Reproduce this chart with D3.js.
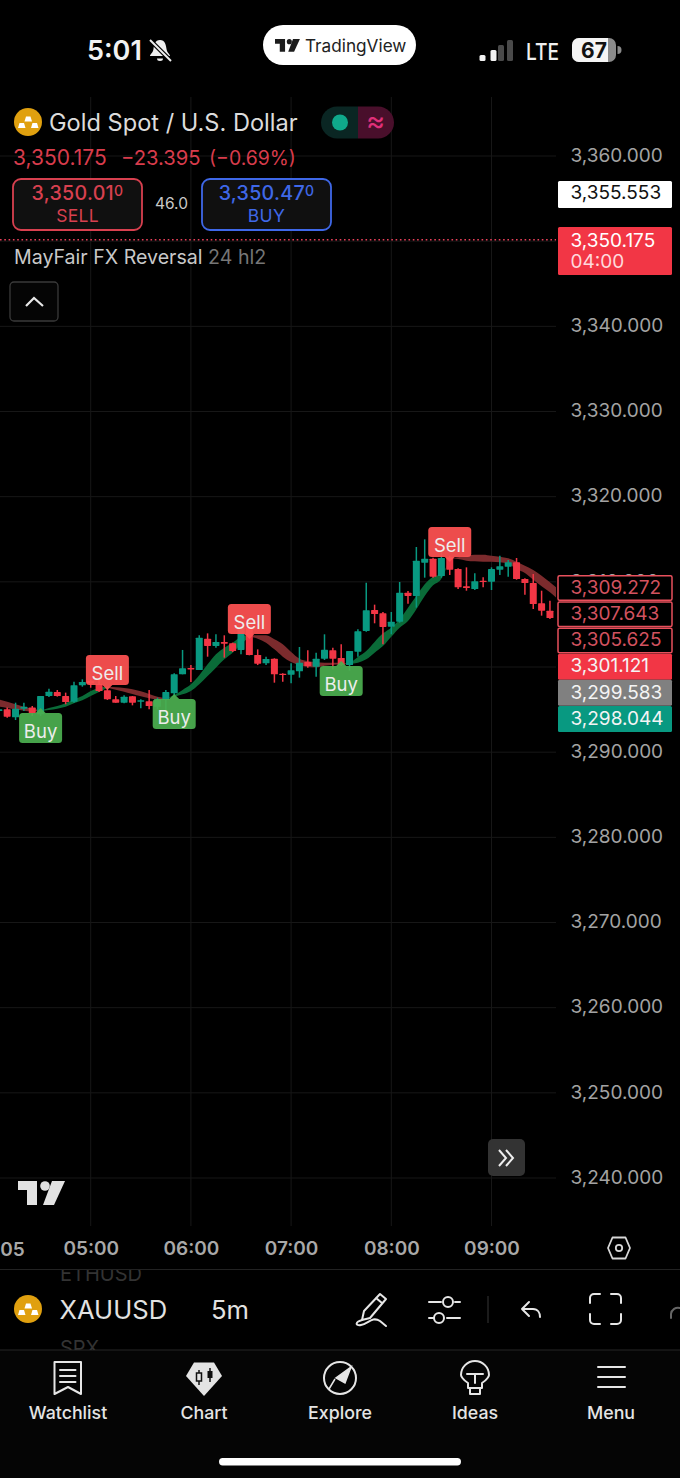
<!DOCTYPE html>
<html>
<head>
<meta charset="utf-8">
<style>
  html, body { margin: 0; padding: 0; background: #000; }
  text { font-family: Inter, "Noto Sans", sans-serif; }
</style>
<script src="https://cdn.jsdelivr.net/npm/d3@7"></script>
</head>
<body>
<div id="chart"></div>
<script>
// 5m candles, first bar is 04:05
var firstBar = -11;
var opens = [3294.83,3295.03,3294.09,3295.11,3295.23,3294.44,3296.59,3297.06,3296.59,3295.93,3297.85,
  3298.36,3297.96,3297.26,3296.20,3295.81,3296.56,3295.97,3295.97,3295.34,3296.13,3296.91,3299.14,
  3299.88,3299.65,3303.33,3302.47,3302.94,3302.78,3302.00,3304.62,3301.41,3300.43,3300.98,3299.22,
  3299.10,3299.49,3300.59,3300.04,3300.98,3301.96,3301.06,3300.23,3301.80,3304.23,3306.69,3306.30,
  3304.74,3305.32,3308.73,3308.34,3312.25,3312.72,3310.68,3312.88,3311.51,3309.47,3309.16,3310.14,
  3310.02,3311.43,3311.78,3312.29,3310.33,3309.86,3307.48,3306.61];
var highs = [3295.20,3295.23,3295.81,3295.81,3295.42,3296.59,3297.46,3297.30,3296.99,3298.28,3298.55,
  3298.55,3298.55,3297.57,3296.59,3296.67,3296.59,3296.20,3297.30,3296.40,3297.30,3299.26,3302.00,
  3300.23,3303.72,3303.95,3303.84,3303.72,3302.86,3304.81,3304.74,3302.07,3301.21,3301.02,3299.26,
  3300.43,3302.35,3301.96,3301.68,3303.84,3302.27,3302.66,3301.88,3304.42,3309.90,3307.32,3306.46,
  3306.46,3309.98,3308.92,3314.09,3314.99,3312.84,3313.62,3313.07,3311.59,3311.70,3311.00,3310.53,
  3311.70,3313.07,3312.56,3312.80,3310.41,3310.92,3308.96,3307.79];
var lows = [3294.60,3294.05,3293.78,3294.83,3294.25,3294.25,3296.48,3296.52,3295.62,3295.81,3297.69,
  3297.57,3297.06,3296.13,3295.81,3295.73,3295.50,3295.15,3295.03,3295.03,3294.95,3296.59,3299.14,
  3298.24,3299.65,3301.21,3302.27,3301.10,3301.76,3301.49,3301.37,3300.23,3300.23,3298.16,3298.28,
  3298.08,3298.75,3299.92,3298.86,3300.82,3299.73,3300.12,3299.57,3301.21,3304.15,3305.13,3302.66,
  3303.84,3305.21,3307.44,3306.97,3310.49,3310.49,3310.49,3310.80,3309.16,3308.96,3309.04,3309.35,
  3309.04,3310.80,3310.61,3310.25,3308.49,3306.81,3306.03,3305.64];
var closes = [3295.03,3294.17,3295.11,3295.34,3294.56,3296.59,3297.10,3296.59,3295.89,3297.85,3298.24,
  3298.08,3297.18,3296.20,3295.81,3296.52,3295.81,3296.09,3295.42,3296.20,3297.06,3299.14,3299.84,
  3299.73,3303.44,3302.47,3302.94,3302.74,3301.88,3304.62,3301.41,3300.39,3300.94,3299.14,3299.06,
  3299.61,3300.51,3300.12,3300.98,3302.04,3300.98,3300.23,3301.88,3304.19,3306.65,3306.22,3304.70,
  3305.32,3308.73,3308.34,3312.49,3312.72,3310.61,3312.80,3311.43,3309.35,3309.28,3310.06,3309.98,
  3311.51,3311.82,3312.29,3310.33,3309.86,3307.40,3306.61,3305.75];

// MayFair band segments: [bar, upper, lower]
var bearA = [[-11,3296.20,3295.34],[-10,3295.93,3295.19],[-9,3295.62,3295.03],[-8,3295.34,3294.87],[-7,3295.11,3294.79],[-6,3294.95,3294.87]];
var bullA = [[-6,3294.87,3294.87],[-5,3295.19,3294.95],[-4,3295.42,3295.11],[-3,3295.73,3295.34],[-2,3296.20,3295.73],[-1,3296.59,3296.09],[0,3297.18,3296.59],[1,3297.57,3297.06],[2,3297.69,3297.57]];
var bearB = [[2,3297.69,3297.57],[3,3297.61,3297.34],[4,3297.53,3297.10],[5,3297.38,3296.83],[6,3297.14,3296.56],[7,3296.83,3296.32],[8,3296.52,3296.20],[9,3296.36,3296.20]];
var bullB = [[9,3296.28,3296.28],[10,3296.70,3296.50],[11,3297.30,3296.79],[12,3297.96,3297.18],[13,3299.02,3297.96],[14,3300.31,3298.94],[15,3301.49,3299.92],[16,3302.27,3300.90],[17,3302.86,3301.68],[18,3303.56,3302.66],[19,3303.72,3303.56]];
var bearC = [[19,3303.72,3303.56],[20,3303.72,3303.33],[21,3303.72,3302.86],[22,3303.25,3302.07],[23,3302.66,3301.21],[24,3301.76,3300.59],[25,3300.98,3300.23],[26,3300.70,3300.00],[27,3300.55,3299.96],[28,3300.51,3300.16],[29,3300.51,3300.27],[30,3300.47,3300.31],[31,3300.39,3300.35]];
var bullC = [[31,3300.39,3300.35],[32,3301.17,3300.51],[33,3301.88,3300.90],[34,3302.94,3301.68],[35,3303.95,3302.47],[36,3304.62,3303.56],[37,3305.60,3304.62],[38,3306.97,3305.40],[39,3308.34,3306.77],[40,3309.71,3308.34],[41,3310.61,3309.59],[42,3310.88,3310.37],[43,3312.76,3312.76]];
var bearD = [[43,3312.76,3312.76],[44,3312.88,3312.68],[45,3313.07,3312.49],[46,3313.19,3312.41],[47,3313.19,3312.37],[48,3313.07,3312.37],[49,3312.95,3312.29],[50,3312.76,3312.09],[51,3312.37,3311.51],[52,3311.90,3311.04],[53,3311.39,3310.25],[54,3310.72,3309.47],[55,3309.94,3308.77],[56,3309.16,3307.91]];

// signal labels: bar, text, price at the tip of the pointer
var signalBars = [-6, 2, 10, 19, 30, 43];
var signalKinds = ['Buy', 'Sell', 'Buy', 'Sell', 'Buy', 'Sell'];
var signalPrices = [3295.19, 3297.30, 3296.83, 3303.29, 3300.71, 3312.33];

var gridPrices = [3360, 3350, 3340, 3330, 3320, 3310, 3300, 3290, 3280, 3270, 3260, 3250, 3240];
// 3,350 and 3,300 sit fully under the price labels
var yTicks = [3360, 3340, 3330, 3320, 3310, 3290, 3280, 3270, 3260, 3250, 3240];
var xTicks = ['05:00', '06:00', '07:00', '08:00', '09:00'];

var highPrice = 3355.553;
var lastPrice = 3350.175;
var outlinedPrices = [3309.272, 3307.643, 3305.625];
var filledPrices = [3301.121, 3299.583, 3298.044];
var filledColors = ['#f23645', '#808080', '#089981'];

var W = 680, H = 1478;
var UP = '#089981', DOWN = '#f23645';
var plotW = 556, plotTop = 97, plotBottom = 1226;

function clock(s) {
  var p = s.split(':');
  return new Date(2025, 4, 5, +p[0], +p[1]);
}
function barTime(bar) {
  return d3.timeMinute.offset(clock('05:00'), bar * 5);
}

var x = d3.scaleTime().domain([clock('05:00'), clock('09:00')]).range([90.7, 491.5]);
var y = d3.scaleLinear().domain([3360, 3240]).range([156, 1178]);
var fmt = d3.format(',.3f');

var svg = d3.select('#chart').append('svg')
  .attr('width', W).attr('height', H)
  .attr('viewBox', '0 0 ' + W + ' ' + H)
  .style('display', 'block')
  .style('background', '#000');

var defs = svg.append('defs');
defs.append('clipPath').attr('id', 'plotclip').append('rect')
  .attr('x', 0).attr('y', plotTop).attr('width', plotW).attr('height', plotBottom - plotTop);
defs.append('clipPath').attr('id', 'rowclip').append('rect')
  .attr('x', 0).attr('y', 1270).attr('width', W).attr('height', 80);
defs.append('clipPath').attr('id', 'batclip').append('rect')
  .attr('x', 572).attr('y', 38).attr('width', 36).attr('height', 24);

// grid
var grid = svg.append('g');
grid.selectAll('line.h').data(gridPrices).enter().append('line')
  .attr('class', 'h')
  .attr('x1', 0).attr('x2', plotW)
  .attr('y1', function (d) { return y(d); }).attr('y2', function (d) { return y(d); })
  .attr('stroke', '#171717').attr('stroke-width', 1);
grid.selectAll('line.v').data(xTicks).enter().append('line')
  .attr('class', 'v')
  .attr('y1', plotTop).attr('y2', plotBottom)
  .attr('x1', function (d) { return x(clock(d)); }).attr('x2', function (d) { return x(clock(d)); })
  .attr('stroke', '#171717').attr('stroke-width', 1);

var plot = svg.append('g').attr('clip-path', 'url(#plotclip)');

// band
var bandArea = d3.area()
  .x(function (d) { return x(barTime(d[0])); })
  .y0(function (d) { return y(d[2]); })
  .y1(function (d) { return y(d[1]); })
  .curve(d3.curveMonotoneX);
[bearA, bearB, bearC, bearD].forEach(function (seg) {
  plot.append('path').attr('d', bandArea(seg)).attr('fill', '#7c2b2d');
});
[bullA, bullB, bullC].forEach(function (seg) {
  plot.append('path').attr('d', bandArea(seg)).attr('fill', '#0a6b38');
});

// candles
var candles = opens.map(function (o, i) {
  return { t: barTime(firstBar + i), o: o, h: highs[i], l: lows[i], c: closes[i] };
});
var candle = plot.selectAll('g.candle').data(candles).enter().append('g').attr('class', 'candle');
candle.append('line')
  .attr('x1', function (d) { return x(d.t); }).attr('x2', function (d) { return x(d.t); })
  .attr('y1', function (d) { return y(d.h); }).attr('y2', function (d) { return y(d.l); })
  .attr('stroke', function (d) { return d.c >= d.o ? UP : DOWN; })
  .attr('stroke-width', 1.5);
candle.append('rect')
  .attr('x', function (d) { return x(d.t) - 3.5; })
  .attr('width', 7)
  .attr('y', function (d) { return y(Math.max(d.o, d.c)); })
  .attr('height', function (d) { return Math.max(1.4, Math.abs(y(d.o) - y(d.c))); })
  .attr('rx', 0.6)
  .attr('fill', function (d) { return d.c >= d.o ? UP : DOWN; });

// Buy / Sell labels
signalBars.forEach(function (bar, i) {
  var isBuy = signalKinds[i] === 'Buy';
  var cx = x(barTime(bar)), tip = y(signalPrices[i]);
  var dir = isBuy ? 1 : -1;
  var top = isBuy ? tip + 5 : tip - 35;
  var color = isBuy ? '#4caf50' : '#ff5252';
  var g = plot.append('g').attr('opacity', 0.93);
  g.append('path')
    .attr('d', 'M' + (cx - 6) + ',' + (tip + dir * 6) + 'L' + cx + ',' + tip + 'L' + (cx + 6) + ',' + (tip + dir * 6) + 'Z')
    .attr('fill', color);
  g.append('rect')
    .attr('x', cx - 21.5).attr('y', top).attr('width', 43).attr('height', 30).attr('rx', 3.5)
    .attr('fill', color);
  g.append('text')
    .attr('x', cx).attr('y', top + 25)
    .attr('text-anchor', 'middle').attr('font-size', 18.5).attr('fill', '#fff')
    .text(signalKinds[i]);
});

// last price dotted line
svg.append('line')
  .attr('x1', 0).attr('x2', plotW).attr('y1', y(lastPrice)).attr('y2', y(lastPrice))
  .attr('stroke', '#e8405a').attr('stroke-width', 1.5).attr('stroke-dasharray', '1.6 2.7');

// price axis
var yAxis = d3.axisRight(y).tickValues(yTicks).tickSize(0).tickPadding(0).tickFormat(fmt);
var yAxisG = svg.append('g').attr('transform', 'translate(570.5,0)').call(yAxis);
yAxisG.select('.domain').remove();
yAxisG.selectAll('text')
  .attr('font-size', 19).attr('fill', '#a3a3a3').attr('dy', '0.28em');

// price labels
var labelX = 558, labelW = 114, labelText = 570.5;
function priceLabel(cy, h, fill, stroke, textColor, value) {
  svg.append('rect')
    .attr('x', labelX).attr('y', cy - h / 2).attr('width', labelW).attr('height', h).attr('rx', 1.5)
    .attr('fill', fill).attr('stroke', stroke).attr('stroke-width', stroke === 'none' ? 0 : 1.5);
  svg.append('text')
    .attr('x', labelText).attr('y', cy).attr('dy', '0.3em')
    .attr('font-size', 19).attr('fill', textColor)
    .text(fmt(value));
}
svg.append('rect').attr('x', 558).attr('y', 181).attr('width', 114).attr('height', 27).attr('rx', 1.5).attr('fill', '#fff');
svg.append('text').attr('x', labelText).attr('y', 193).attr('dy', '0.3em')
  .attr('font-size', 19).attr('fill', '#111').text(fmt(highPrice));
svg.append('rect').attr('x', 558).attr('y', 227).attr('width', 114).attr('height', 48).attr('rx', 1.5).attr('fill', DOWN);
svg.append('text').attr('x', labelText).attr('y', 246.5)
  .attr('font-size', 19).attr('fill', '#fff').text(fmt(lastPrice));
svg.append('text').attr('x', labelText).attr('y', 268)
  .attr('font-size', 19).attr('fill', '#ffd9dc').text('04:00');

var step = 26.2, stackTop = y(outlinedPrices[0]);
outlinedPrices.forEach(function (p, i) {
  priceLabel(stackTop + i * step, 24.5, '#000', '#e8505c', '#d2525f', p);
});
filledPrices.forEach(function (p, i) {
  priceLabel(stackTop + (i + 3) * step, 26, filledColors[i], 'none', '#f4f4f4', p);
});

// time axis
var xAxis = d3.axisBottom(x)
  .tickValues(xTicks.map(clock)).tickSize(0).tickPadding(0)
  .tickFormat(d3.timeFormat('%H:%M'));
var xAxisG = svg.append('g').attr('transform', 'translate(0,1240)').call(xAxis);
xAxisG.select('.domain').remove();
xAxisG.selectAll('text').attr('font-size', 19).attr('font-weight', 600).attr('fill', '#a8a8a8').attr('dy', '0.8em');
svg.append('text').attr('x', 12.5).attr('y', 1255.5).attr('text-anchor', 'middle')
  .attr('font-size', 19).attr('font-weight', 600).attr('fill', '#a8a8a8').text('05');

// logo
function tvLogo(sel, ox, oy, k, color) {
  var g = sel.append('g').attr('transform', 'translate(' + ox + ',' + oy + ') scale(' + k + ')').attr('fill', color);
  g.append('path').attr('d', 'M0,0H19V24H9V9H0Z');
  g.append('circle').attr('cx', 27).attr('cy', 5).attr('r', 4.8);
  g.append('path').attr('d', 'M34,0H47L36,24H25Z');
}
tvLogo(svg, 18, 1181, 1, '#e2e2e2');

// status bar
svg.append('text').attr('x', 87).attr('y', 60).attr('font-size', 27).attr('font-weight', 600).attr('fill', '#f2f2f2').text('5:01');
var bell = svg.append('g').attr('transform', 'translate(149,39)');
bell.append('path').attr('d', 'M11,1C6,1 5,6 4.5,10C4,14 1,15 1,17H21C21,15 18,14 17.5,10C17,6 16,1 11,1Z').attr('fill', '#eee');
bell.append('path').attr('d', 'M8,19.5A3,2.5 0 0 0 14,19.5Z').attr('fill', '#eee');
bell.append('line').attr('x1', 1).attr('y1', 1).attr('x2', 22).attr('y2', 22).attr('stroke', '#000').attr('stroke-width', 4.5);
bell.append('line').attr('x1', 1).attr('y1', 1).attr('x2', 22).attr('y2', 22).attr('stroke', '#eee').attr('stroke-width', 2);

svg.append('rect').attr('x', 263).attr('y', 25).attr('width', 153).attr('height', 40).attr('rx', 20).attr('fill', '#fff');
tvLogo(svg, 275, 39, 0.53, '#1c1c1c');
svg.append('text').attr('x', 305).attr('y', 51.5).attr('font-size', 17.2).attr('fill', '#222').text('TradingView');

[[479.5, 55, 6, 1], [490.5, 50, 6, 1], [498, 45, 6, 0], [507, 40, 6, 0]].forEach(function (b) {
  svg.append('rect').attr('x', b[0]).attr('y', b[1]).attr('width', b[2]).attr('height', 61 - b[1]).attr('rx', 1.5)
    .attr('fill', b[3] ? '#f2f2f2' : '#4a4a4a');
});
svg.append('text').attr('x', 526).attr('y', 60).attr('font-size', 23).attr('font-weight', 500).attr('fill', '#f0f0f0')
  .attr('textLength', 33).attr('lengthAdjust', 'spacingAndGlyphs').text('LTE');
svg.append('rect').attr('x', 572).attr('y', 38).attr('width', 44).attr('height', 24).attr('rx', 7).attr('fill', '#8b8b8b');
svg.append('rect').attr('x', 572).attr('y', 38).attr('width', 44).attr('height', 24).attr('rx', 7).attr('fill', '#f4f4f4').attr('clip-path', 'url(#batclip)');
svg.append('path').attr('d', 'M617.5,46A4,4 0 0 1 617.5,54Z').attr('fill', '#8b8b8b');
svg.append('text').attr('x', 594).attr('y', 58).attr('text-anchor', 'middle').attr('font-size', 21).attr('font-weight', 700).attr('fill', '#111').text('67');

// gold icons
function goldIcon(cx, cy) {
  var g = svg.append('g');
  g.append('circle').attr('cx', cx).attr('cy', cy).attr('r', 14).attr('fill', '#e0a00f');
  [[-3.5, -5.5], [-10, 1], [3, 1]].forEach(function (b) {
    g.append('path')
      .attr('d', 'M' + (cx + b[0] + 1.5) + ',' + (cy + b[1]) + 'h4.5l1.5,5h-7.5z')
      .attr('fill', '#fff');
  });
}
goldIcon(28, 122);
goldIcon(28, 1309);

// header
svg.append('text').attr('x', 49).attr('y', 131).attr('font-size', 23.6).attr('fill', '#dcdcdc').text('Gold Spot / U.S. Dollar');
svg.append('path').attr('d', 'M337,106.5H358V138.5H337A16,16 0 0 1 337,106.5Z').attr('fill', '#0a2623');
svg.append('path').attr('d', 'M358,106.5H378A16,16 0 0 1 378,138.5H358Z').attr('fill', '#490f2b');
svg.append('circle').attr('cx', 340).attr('cy', 122.5).attr('r', 8).attr('fill', '#0fa98b');
svg.append('text').attr('x', 375.5).attr('y', 131).attr('text-anchor', 'middle').attr('font-size', 29).attr('fill', '#e0307a').text('≈');

[[13, '3,350.175', 21], [121, '−23.395', 20.2], [209, '(−0.69%)', 19.4]].forEach(function (s) {
  svg.append('text').attr('x', s[0]).attr('y', 164.5).attr('font-size', s[2])
    .attr('fill', '#d83c4c').text(s[1]);
});

function tradeBox(bx, color, price, label) {
  svg.append('rect').attr('x', bx).attr('y', 179).attr('width', 129).attr('height', 51).attr('rx', 8)
    .attr('fill', '#101010').attr('stroke', color).attr('stroke-width', 1.8);
  var t = svg.append('text').attr('x', bx + 64.5).attr('y', 200).attr('text-anchor', 'middle')
    .attr('font-size', 19.6).attr('font-weight', 500).attr('fill', color).attr('letter-spacing', 0.3).text(price);
  t.append('tspan').attr('font-size', 14).attr('dy', -4).text('0');
  svg.append('text').attr('x', bx + 64.5).attr('y', 222).attr('text-anchor', 'middle')
    .attr('font-size', 17.5).attr('fill', color).attr('letter-spacing', 0.3).text(label);
}
tradeBox(13, '#d8404f', '3,350.01', 'SELL');
tradeBox(202, '#3f68e8', '3,350.47', 'BUY');
svg.append('text').attr('x', 171.5).attr('y', 209).attr('text-anchor', 'middle').attr('font-size', 15.5).attr('fill', '#c8c8c8').text('46.0');

var study = svg.append('text').attr('x', 14).attr('y', 264).attr('font-size', 19.6).attr('fill', '#c9c9c9').text('MayFair FX Reversal ');
study.append('tspan').attr('fill', '#767676').text('24 hl2');

svg.append('rect').attr('x', 10).attr('y', 282).attr('width', 48).attr('height', 39).attr('rx', 4)
  .attr('fill', '#050505').attr('stroke', '#3a3a3a').attr('stroke-width', 1.3);
svg.append('path').attr('d', 'M26,306L34,298L43,306').attr('fill', 'none').attr('stroke', '#e8e8e8').attr('stroke-width', 2.2);

// scroll button
svg.append('rect').attr('x', 488).attr('y', 1139).attr('width', 37).attr('height', 37).attr('rx', 5).attr('fill', '#333');
svg.append('path').attr('d', 'M499,1150L506,1158L499,1166M506,1150L513,1158L506,1166')
  .attr('fill', 'none').attr('stroke', '#eee').attr('stroke-width', 2);

// settings hexagon
svg.append('path').attr('d', 'M612.5,1237.5H625.5L630,1248L625.5,1258.5H612.5L608,1248Z')
  .attr('fill', 'none').attr('stroke', '#d8d8d8').attr('stroke-width', 1.8).attr('stroke-linejoin', 'round');
svg.append('circle').attr('cx', 619).attr('cy', 1248).attr('r', 3.2).attr('fill', 'none').attr('stroke', '#d8d8d8').attr('stroke-width', 1.8);

// toolbar
svg.append('rect').attr('x', 0).attr('y', 1350).attr('width', W).attr('height', H - 1350).attr('fill', '#050505');
svg.append('line').attr('x1', 0).attr('x2', W).attr('y1', 1269.5).attr('y2', 1269.5).attr('stroke', '#222').attr('stroke-width', 1.2);
svg.append('line').attr('x1', 0).attr('x2', W).attr('y1', 1350).attr('y2', 1350).attr('stroke', '#262626').attr('stroke-width', 1.2);

var row = svg.append('g').attr('clip-path', 'url(#rowclip)');
row.append('text').attr('x', 60).attr('y', 1281).attr('font-size', 20).attr('fill', '#333').text('ETHUSD');
row.append('text').attr('x', 60).attr('y', 1355).attr('font-size', 20).attr('fill', '#333').text('SPX');
svg.append('text').attr('x', 59.5).attr('y', 1319).attr('font-size', 25.6).attr('fill', '#e2e2e2').text('XAUUSD');
svg.append('text').attr('x', 211).attr('y', 1319).attr('font-size', 25.6).attr('fill', '#e2e2e2').text('5m');

var toolStroke = { fill: 'none', stroke: '#e6e6e6', 'stroke-width': 2, 'stroke-linecap': 'round', 'stroke-linejoin': 'round' };
function strokePath(d, sw) {
  var p = svg.append('path').attr('d', d);
  Object.keys(toolStroke).forEach(function (k) { p.attr(k, toolStroke[k]); });
  if (sw) p.attr('stroke-width', sw);
  return p;
}
strokePath('M380,1294L386,1299L370,1318L362,1320L364,1311ZM376,1298L382,1303');
strokePath('M362,1320C355,1322 355,1326 361,1325C368,1324 372,1316 380,1321L386,1326');
strokePath('M429,1302H441M455,1302H460M429,1318H434M447,1318H460');
svg.append('circle').attr('cx', 448).attr('cy', 1302).attr('r', 5).attr('fill', 'none').attr('stroke', '#e6e6e6').attr('stroke-width', 2);
svg.append('circle').attr('cx', 439).attr('cy', 1318).attr('r', 5).attr('fill', 'none').attr('stroke', '#e6e6e6').attr('stroke-width', 2);
svg.append('line').attr('x1', 488).attr('x2', 488).attr('y1', 1296).attr('y2', 1323).attr('stroke', '#2a2a2a').attr('stroke-width', 1.3);
strokePath('M529,1302L522,1309L529,1316M522,1309H533C538,1309 540,1313 540,1317');
strokePath('M590,1303V1298A4,4 0 0 1 594,1294H600M611,1294H617A4,4 0 0 1 621,1298V1303M621,1314V1320A4,4 0 0 1 617,1324H611M600,1324H594A4,4 0 0 1 590,1320V1314');
strokePath('M671,1318V1314A7,7 0 0 1 680,1308').attr('stroke', '#666');

// tab bar
var tabNames = ['Watchlist', 'Chart', 'Explore', 'Ideas', 'Menu'];
var tabCenters = [68, 204, 340, 475, 611];
tabNames.forEach(function (name, i) {
  svg.append('text').attr('x', tabCenters[i]).attr('y', 1419).attr('text-anchor', 'middle')
    .attr('font-size', 17.8).attr('font-weight', 500).attr('fill', '#e4e4e4').text(name);
});
strokePath('M54.5,1362H81V1394L68,1387L54.5,1394ZM60,1370H75.5M60,1376H75.5M60,1382H75.5');
svg.append('path').attr('d', 'M194,1362.5H214L222,1376L204,1396L186,1376Z').attr('fill', '#e4e4e4');
svg.append('path').attr('d', 'M199,1370V1385M210,1368V1382').attr('stroke', '#111').attr('stroke-width', 1.5);
svg.append('rect').attr('x', 196.5).attr('y', 1373).attr('width', 5).attr('height', 8).attr('fill', '#e4e4e4').attr('stroke', '#111').attr('stroke-width', 1.5);
svg.append('rect').attr('x', 207.5).attr('y', 1371).attr('width', 5).attr('height', 7).attr('fill', '#111');
svg.append('circle').attr('cx', 340).attr('cy', 1378).attr('r', 16).attr('fill', 'none').attr('stroke', '#e6e6e6').attr('stroke-width', 2);
svg.append('path').attr('d', 'M351,1367L345,1383L336,1378ZM335,1379L329,1389').attr('fill', '#e6e6e6').attr('stroke', '#e6e6e6').attr('stroke-width', 1.5);
strokePath('M468,1388V1383C463,1380 461,1376 461,1375A14,14 0 1 1 489,1375C489,1376 487,1380 482,1383V1388ZM467,1374H483M475,1374V1383M470,1388V1394H480V1388');
strokePath('M598,1367H625M598,1377H625M598,1387H625');

svg.append('rect').attr('x', 219).attr('y', 1458).attr('width', 242).attr('height', 7.5).attr('rx', 3.7).attr('fill', '#fff');
</script>
</body>
</html>
